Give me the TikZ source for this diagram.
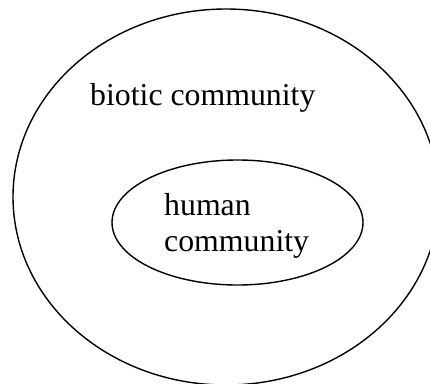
\documentclass[tikz,border=0pt]{standalone}
\usepackage{fontspec}
\setmainfont{Liberation Serif}
\usetikzlibrary{shapes.geometric}
\begin{document}
\begin{tikzpicture}[x=1pt,y=-1pt,
  ring/.style={draw=black,line width=1.4pt,ellipse,inner sep=0pt},
  label/.style={anchor=base west,inner sep=0pt,font=\fontsize{31.8}{35}\selectfont}]
\useasboundingbox (0,0) rectangle (430,383);
\clip (0,0) rectangle (430,383);
\node[ring,minimum width=426pt,minimum height=376pt] (outer) at (226,197) {};
\node[ring,minimum width=251pt,minimum height=125pt] (inner) at (237.5,222.5) {};
\node[label] (biotic) at (90,105) {biotic community};
\node[label] (human) at (164,215.5) {human};
\node[label] (comm) at (164,251) {community};
\end{tikzpicture}
\end{document}
